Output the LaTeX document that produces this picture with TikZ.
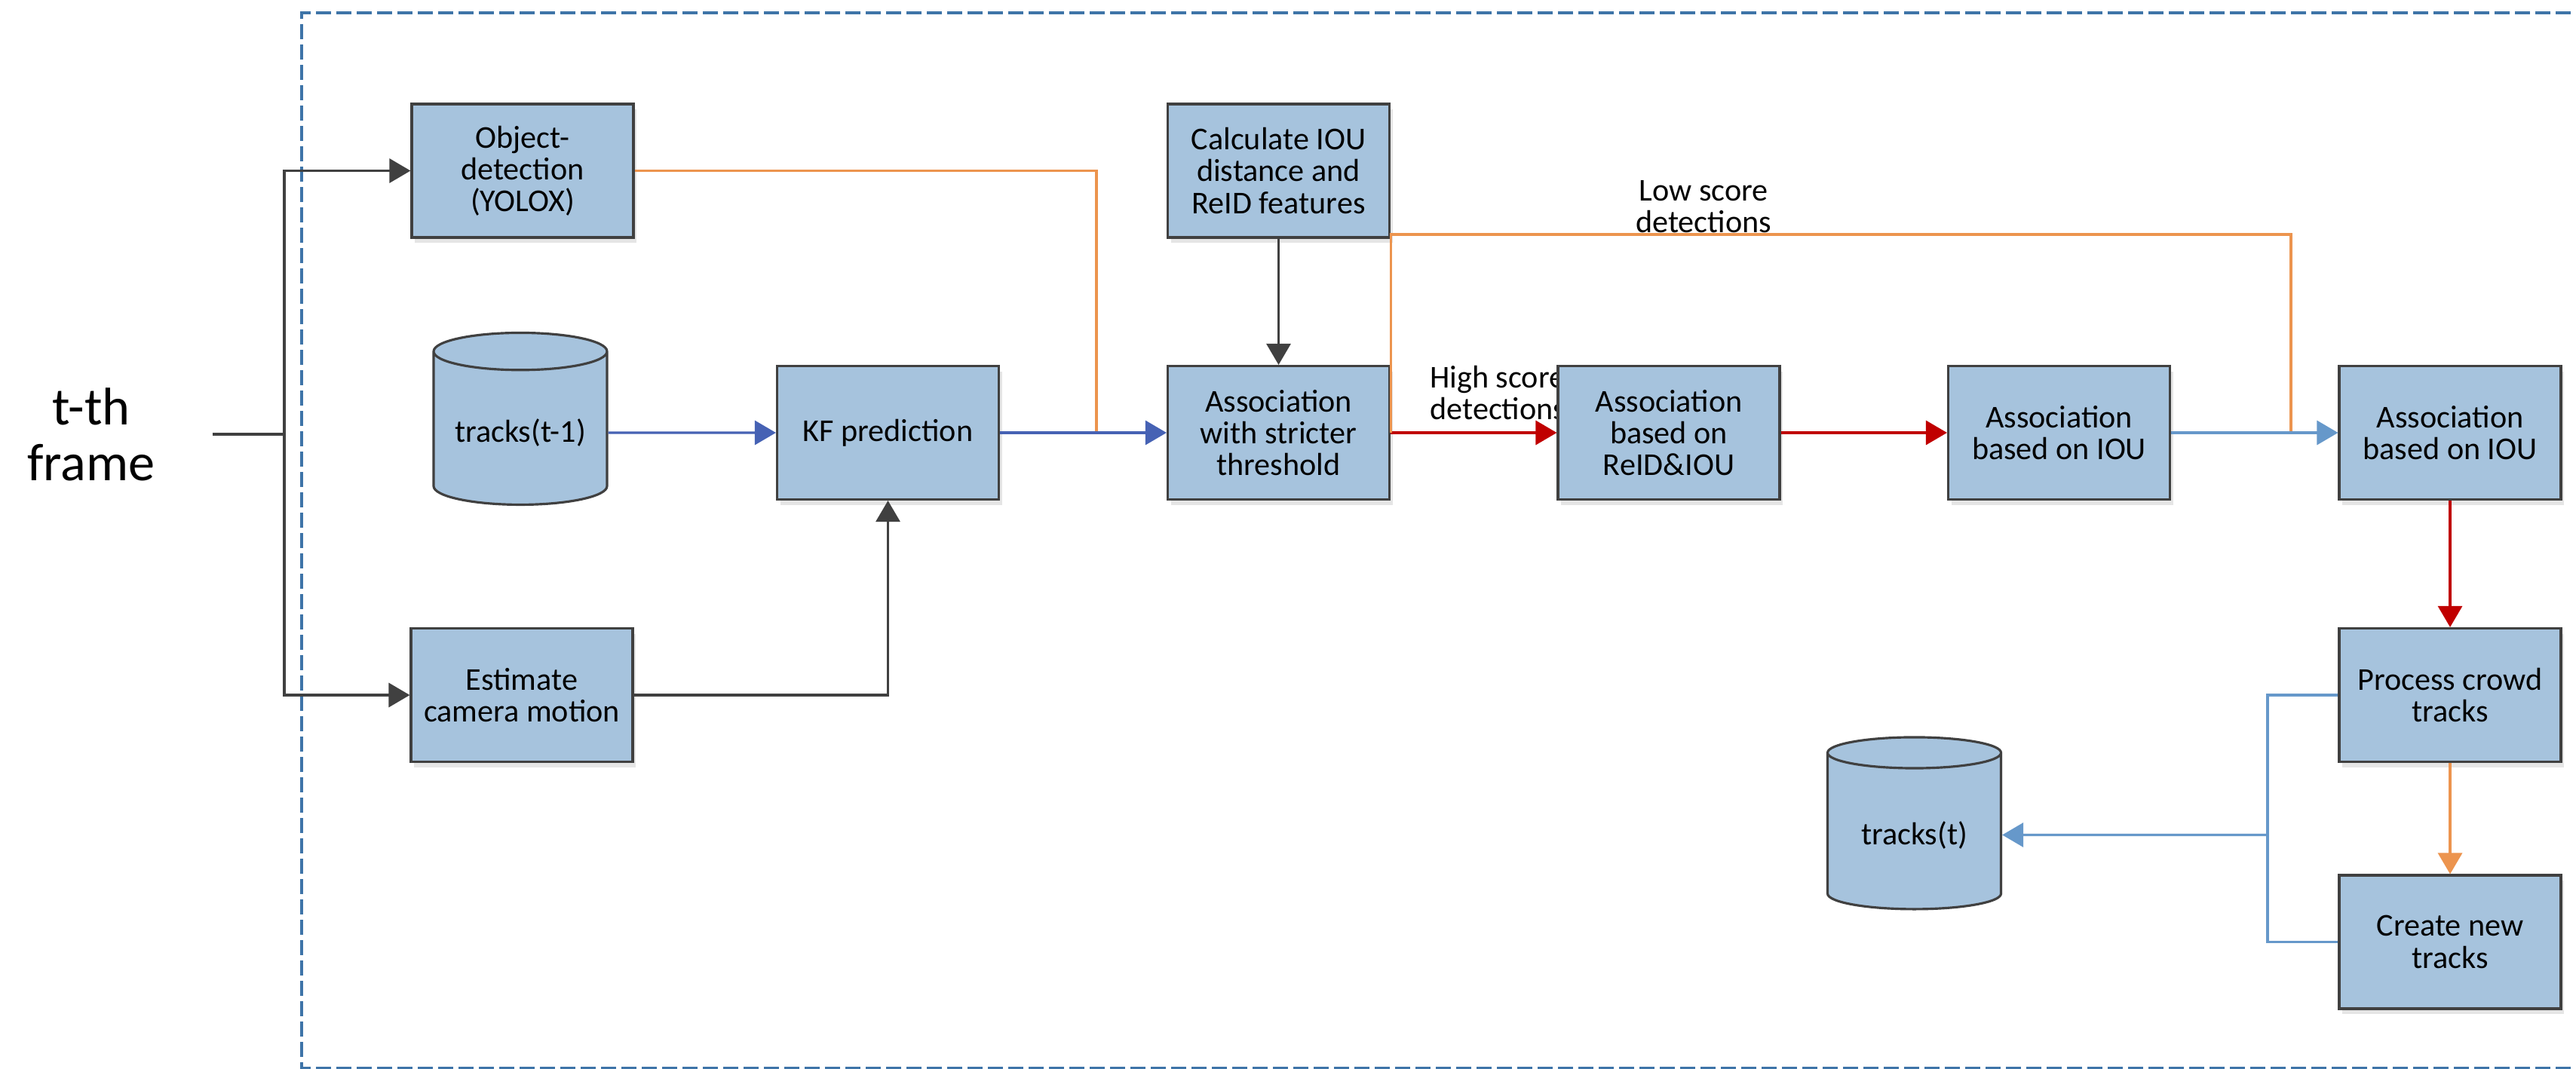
\documentclass[tikz,border=0pt]{standalone}
\usepackage{fontspec}
\setmainfont{Carlito}
\usetikzlibrary{arrows.meta,shapes.geometric,shadows}

\definecolor{boxblue}{RGB}{166,195,221}
\definecolor{linegray}{RGB}{64,64,64}
\definecolor{orng}{RGB}{236,148,78}
\definecolor{kfblue}{RGB}{70,98,180}
\definecolor{redline}{RGB}{192,0,0}
\definecolor{lblue}{RGB}{102,152,202}
\definecolor{frameblue}{RGB}{62,116,168}

\begin{document}
\begin{tikzpicture}[
    box/.style={draw=linegray, fill=boxblue, line width=0.9pt, minimum width=2.94cm, minimum height=1.77cm,
        align=center, font=\fontsize{12}{12}\selectfont,
        drop shadow={shadow xshift=0.04cm, shadow yshift=-0.07cm, fill=black!10, opacity=1}},
    db/.style={cylinder, shape border rotate=90, aspect=0.25, draw=linegray, fill=boxblue, line width=0.9pt,
        minimum width=2.3cm, minimum height=2.28cm, font=\fontsize{12}{12}\selectfont},
    lbl/.style={font=\fontsize{12}{12}\selectfont},
    con/.style={line width=0.9pt},
    arr/.style={-{Triangle[length=0.28cm,width=0.32cm]}}
]
                \useasboundingbox (0,0) rectangle (34.16,-14.18);
                \draw[frameblue, line width=1.2pt, dash pattern=on 0.2cm off 0.07cm] (34.9,-0.17) -- (4.0,-0.17) -- (4.0,-14.17) -- (34.9,-14.17);

                % labels first, the boxes cover them
                \node[lbl, align=left, anchor=west] (hilbl) at (18.84,-5.21) {High score\\detections};
                \node[lbl, align=center] (lolbl) at (22.59,-2.745) {Low score\\detections};
                \node[font=\fontsize{20}{21}\selectfont, align=center, minimum width=3.2cm] (tframe) at (1.21,-5.76) {t-th\\frame};

                \node[box] (obj) at (6.93,-2.265) {Object-\\detection\\(YOLOX)};
                \node[db] (trk1) at (6.90,-5.74) {tracks(t-1)};
                \node[box] (est) at (6.92,-9.22) {Estimate\\camera motion};
                \node[box] (kf) at (11.775,-5.74) {KF prediction};
                \node[box] (calc) at (16.955,-2.265) {Calculate IOU\\distance and\\ReID features};
                \node[box] (strict) at (16.955,-5.74) {Association\\with stricter\\threshold};
                \node[box] (reid) at (22.13,-5.74) {Association\\based on\\ReID\&IOU};
                \node[box] (iou1) at (27.305,-5.74) {Association\\based on IOU};
                \node[box] (iou2) at (32.49,-5.74) {Association\\based on IOU};
                \node[box] (crowd) at (32.49,-9.22) {Process crowd\\tracks};
                \node[box] (create) at (32.49,-12.495) {Create new\\tracks};
                \node[db] (trk2) at (25.385,-11.075) {tracks(t)};

                \coordinate (split) at (3.77,-5.76);
                \coordinate (kfjoin) at (14.54,-5.74);
                \coordinate (lowturn) at (30.38,-3.11);
                \coordinate (merge) at (30.07,-11.075);

                \draw[con,linegray] (tframe.east) -- (split);
                \draw[con,linegray,arr] (split) |- (obj);
                \draw[con,linegray,arr] (split) |- (est);
                \draw[con,kfblue,arr] (trk1) -- (kf);
                \draw[con,linegray,arr] (est) -| (kf);
                \draw[con,orng] (obj) -| (kfjoin);
                \draw[con,kfblue,arr] (kf) -- (strict);
                \draw[con,linegray,arr] (calc) -- (strict);
                \draw[con,redline,arr] (strict) -- (reid);
                \draw[con,orng] (strict.east) |- (lowturn) -- (lowturn |- iou2);
                \draw[con,redline,arr] (reid) -- (iou1);
                \draw[con,lblue,arr] (iou1) -- (iou2);
                \draw[con,redline,arr] (iou2) -- (crowd);
                \draw[con,orng,arr] (crowd) -- (create);
                \draw[con,lblue] (crowd.west) -| (merge) |- (create.west);
                \draw[con,lblue,arr] (merge) -- (trk2);
\end{tikzpicture}
\end{document}
